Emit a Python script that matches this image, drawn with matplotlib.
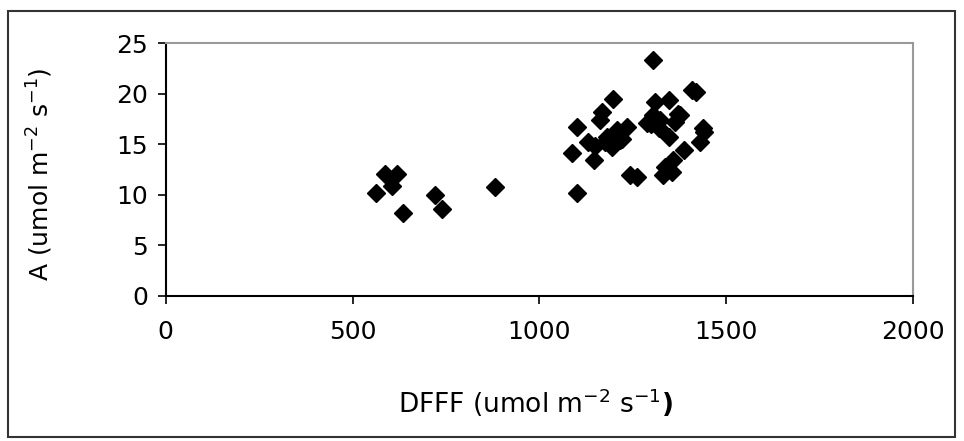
import matplotlib
matplotlib.use("Agg")
import matplotlib.pyplot as plt
from matplotlib.patches import Rectangle

plt.rcParams['font.family'] = ['DejaVu Sans']
plt.rcParams['mathtext.fontset'] = 'dejavusans'

# data: PPFD (x) and assimilation A (y)
dfff = [564, 587, 618, 606, 636, 720, 740, 880,
        1087, 1100, 1100, 1131, 1145, 1150, 1163, 1167, 1175, 1180, 1194,
        1198, 1200, 1207, 1216, 1220, 1234, 1243, 1261, 1288, 1300, 1305,
        1305, 1310, 1319, 1323, 1332, 1337, 1346, 1346, 1355, 1359, 1364,
        1370, 1377, 1386, 1408, 1420, 1430, 1439, 1440]
a_vals = [10.2, 12.1, 12.1, 10.9, 8.2, 10.0, 8.6, 10.8,
          14.1, 16.7, 10.15, 15.25, 13.4, 14.8, 17.4, 18.2, 15.2, 15.7, 14.75,
          19.5, 16.0, 16.4, 15.4, 15.5, 16.7, 12.0, 11.8, 17.1, 17.0, 23.3,
          17.9, 19.2, 16.6, 17.4, 12.0, 12.8, 19.4, 15.7, 12.3, 13.4, 17.2,
          18.0, 17.9, 14.4, 20.35, 20.2, 15.2, 16.6, 16.2]

x_ticks = [0, 500, 1000, 1500, 2000]
y_ticks = [0, 5, 10, 15, 20, 25]

fig = plt.figure(figsize=(9.64, 4.41), dpi=100)
ax = fig.add_axes([0.172, 0.329, 0.775, 0.573])

ax.plot(dfff, a_vals, linestyle='none', marker='D', markersize=9,
        color='black', markeredgecolor='black', zorder=3)

ax.set_xlim(0, 2000)
ax.set_ylim(0, 25)
ax.set_xticks(x_ticks)
ax.set_yticks(y_ticks)
ax.tick_params(axis='both', direction='out', length=6, width=1.2,
               labelsize=18, colors='black')
ax.tick_params(axis='x', pad=11)
ax.tick_params(axis='y', pad=7)

for s in ['top', 'right']:
    ax.spines[s].set_color('#999999')
    ax.spines[s].set_linewidth(1.5)
for s in ['left', 'bottom']:
    ax.spines[s].set_color('black')
    ax.spines[s].set_linewidth(1.5)

ax.set_xlabel(r'DFFF (umol m$^{-2}$ s$^{-1}$$\mathbf{)}$', fontsize=19)
ax.set_ylabel(r'A (umol m$^{-2}$ s$^{-1}$)', fontsize=18)
ax.xaxis.label.set_va('center')
ax.yaxis.label.set_va('center')
ax.xaxis.set_label_coords(0.495, -0.423)
ax.yaxis.set_label_coords(-0.168, 0.48)

fig.patches.append(Rectangle((8/964, 4/441), 947/964, 426/441,
                             transform=fig.transFigure, fill=False,
                             edgecolor='#333333', linewidth=1.5))

fig.savefig('out.png', dpi=100)
